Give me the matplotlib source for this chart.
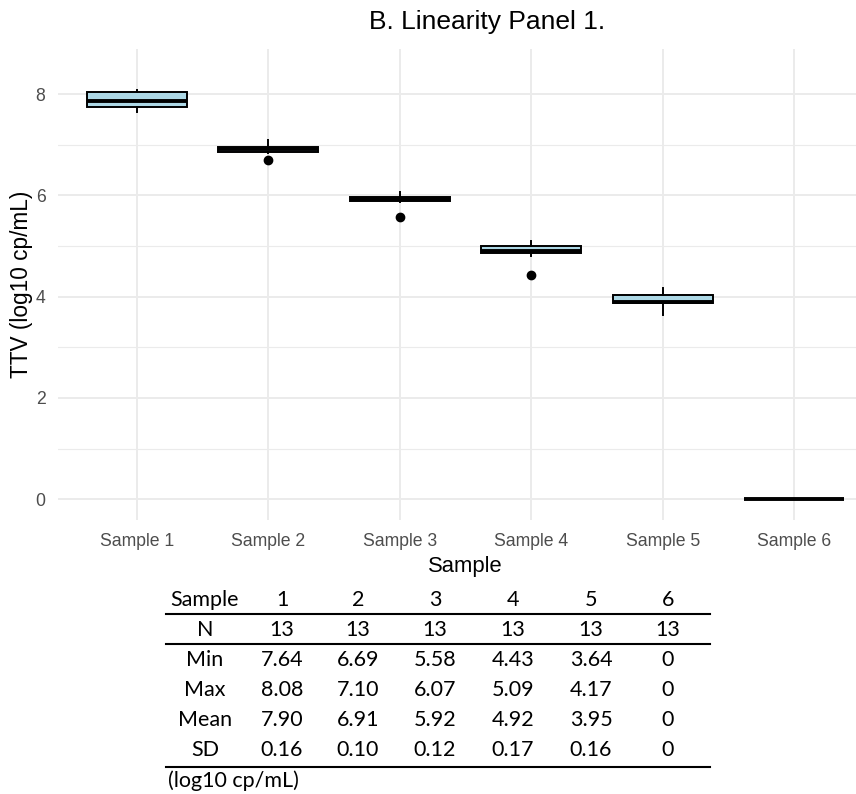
import matplotlib
matplotlib.use("Agg")
import matplotlib.pyplot as plt

# box statistics per sample (log10 cp/mL)
samples = ["Sample 1", "Sample 2", "Sample 3", "Sample 4", "Sample 5", "Sample 6"]
q1 = [7.75, 6.86, 5.88, 4.87, 3.87, 0]
med = [7.87, 6.91, 5.93, 4.90, 3.89, 0]
q3 = [8.04, 6.95, 5.97, 5.00, 4.04, 0]
whislo = [7.64, 6.83, 5.86, 4.80, 3.64, 0]
whishi = [8.08, 7.10, 6.07, 5.09, 4.17, 0]
outliers = [[], [6.69], [5.58], [4.43], [], []]

# summary table
tab_cols = ["1", "2", "3", "4", "5", "6"]
n_vals = [13, 13, 13, 13, 13, 13]
min_vals = [7.64, 6.69, 5.58, 4.43, 3.64, 0]
max_vals = [8.08, 7.10, 6.07, 5.09, 4.17, 0]
mean_vals = [7.90, 6.91, 5.92, 4.92, 3.95, 0]
sd_vals = [0.16, 0.10, 0.12, 0.17, 0.16, 0]

W, H = 856, 794
fig = plt.figure(figsize=(W / 100, H / 100), dpi=100)
ax = fig.add_axes([58 / W, 1 - 520 / H, (873 - 58) / W, (520 - 49) / H])

stats = []
for i in range(len(samples)):
    stats.append(dict(q1=q1[i], med=med[i], q3=q3[i], whislo=whislo[i],
                      whishi=whishi[i], fliers=outliers[i], label=samples[i]))

ax.bxp(stats, positions=range(1, 7), widths=0.76, patch_artist=True,
       showcaps=False, zorder=3,
       boxprops=dict(facecolor="#add8e6", edgecolor="black", linewidth=1.4),
       medianprops=dict(color="black", linewidth=2.8),
       whiskerprops=dict(color="black", linewidth=1.4),
       flierprops=dict(marker="o", markerfacecolor="black", markeredgecolor="black",
                       markersize=6))

ax.set_xlim(0.4, 6.6)
ax.set_ylim(-0.41, 8.89)
ax.set_yticks([0, 2, 4, 6, 8])
ax.set_yticks([1, 3, 5, 7], minor=True)
ax.grid(True, which="major", color="#ebebeb", linewidth=1.4, zorder=0)
ax.grid(True, which="minor", axis="y", color="#ebebeb", linewidth=0.8, zorder=0)
for s in ax.spines.values():
    s.set_visible(False)
ax.tick_params(which="both", length=0, labelsize=12.7, labelcolor="#4d4d4d")
ax.tick_params(axis="x", pad=9)
ax.tick_params(axis="y", pad=9)
for lab in ax.get_xticklabels() + ax.get_yticklabels():
    lab.set_family("Liberation Sans")
ax.set_xlabel("Sample", fontsize=15.8, family="Liberation Sans", labelpad=5)
ax.set_ylabel("TTV (log10 cp/mL)", fontsize=16.3, family="Liberation Sans", labelpad=2)

fig.text(487 / W, 1 - 22 / H, "B. Linearity Panel 1.", ha="center", va="center",
         fontsize=19, family="Liberation Sans")

# table below the plot
col_x = [205, 282, 358, 435, 513, 591, 668]
row_y = [600, 630, 660, 690, 720, 750]


def fmt(v):
    return "0" if v == 0 else f"{v:.2f}"


rows = [["Sample"] + tab_cols,
        ["N"] + [str(v) for v in n_vals],
        ["Min"] + [fmt(v) for v in min_vals],
        ["Max"] + [fmt(v) for v in max_vals],
        ["Mean"] + [fmt(v) for v in mean_vals],
        ["SD"] + [fmt(v) for v in sd_vals]]
for r, y in zip(rows, row_y):
    for txt, x in zip(r, col_x):
        fig.text(x / W, 1 - y / H, txt, ha="center", va="center",
                 fontsize=15.5, family="Lato")

for y in [614, 644, 767]:
    fig.add_artist(plt.Line2D([166 / W, 710 / W], [1 - y / H, 1 - y / H],
                              color="black", linewidth=1.5))
fig.text(168 / W, 1 - 781 / H, "(log10 cp/mL)", ha="left", va="center",
         fontsize=15.5, family="Lato")

fig.savefig("out.png", dpi=100)
